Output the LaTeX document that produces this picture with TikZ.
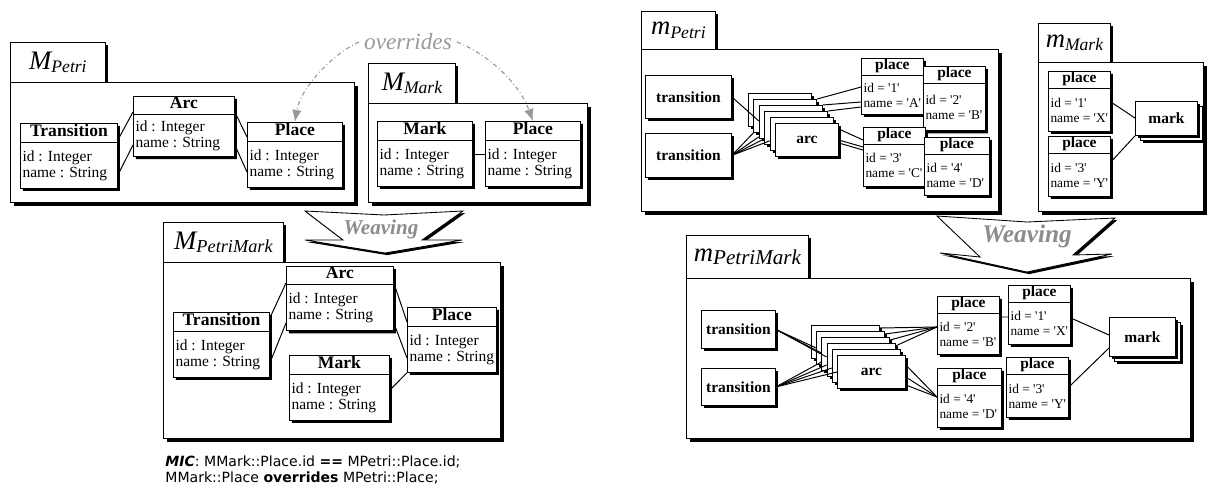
\documentclass[tikz,border=0pt]{standalone}
\usepackage{fontspec}
\setmainfont{Liberation Serif}
\newfontfamily\micfont{DejaVu Sans}
\usetikzlibrary{shapes.multipart,shadows,arrows.meta,calc}

\newcommand{\clshd}[1]{{\fontsize{12.5}{14}\selectfont\bfseries\rule[-4.3pt]{0pt}{12pt}#1}}
\newcommand{\clsbd}[3][32pt]{{\fontsize{11}{11.3}\selectfont\vbox to #1{\vss\hbox{#2}\hbox{#3}\vss}}}
\newcommand{\objhd}[1]{{\fontsize{11}{12}\selectfont\bfseries\rule[-4pt]{0pt}{11.6pt}#1}}
\newcommand{\objbd}[3][29pt]{{\fontsize{9.5}{10.6}\selectfont\vbox to #1{\vss\hbox{#2}\hbox{#3}\vss}}}
\newcommand{\pkgname}[3][12.5]{{\itshape\fontsize{19}{20}\selectfont #2\raisebox{-0.3ex}{\fontsize{#1}{#1}\selectfont #3}}}
\newcommand{\sq}[1]{\textquotesingle#1\textquotesingle}

\begin{document}
\begin{tikzpicture}[x=0.25mm,y=-0.25mm,line width=0.6pt,
  shd/.style={drop shadow={shadow xshift=1.8pt,shadow yshift=-1.8pt,fill=black,opacity=1}},
  tabbox/.style={draw,fill=white,shd,anchor=north west,inner sep=0pt},
  pkgbox/.style={draw,fill=white,drop shadow={shadow xshift=2.2pt,shadow yshift=-2.2pt,fill=black,opacity=1},anchor=north west,inner sep=0pt},
  cls/.style={rectangle split,rectangle split parts=2,draw,fill=white,shd,anchor=north west,inner xsep=1.5pt,inner ysep=0pt,rectangle split part align={center,left}},
  gcls/.style={cls,rectangle split part fill={black!14,black!14}},
  objbox/.style={draw,fill=white,shd,anchor=north west,inner sep=0pt,font=\fontsize{11}{12}\selectfont\bfseries},
  link/.style={line width=0.7pt},
  overarr/.style={black!40,dash dot,line width=0.8pt,-{Latex[length=3mm,width=2.4mm]}},
  weave/.style={draw,fill=white,line width=0.6pt,drop shadow={shadow xshift=1.5pt,shadow yshift=-1.5pt,fill=black,opacity=1}},
  wtxt/.style={text=black!45}]
\useasboundingbox (0,0) rectangle (1215,497);

% M_Petri
\node[tabbox,minimum width=23.75mm,minimum height=10mm] (tab1) at (10,42) {\pkgname{M}{Petri}};
\node[pkgbox,minimum width=86mm,minimum height=30mm] (pkg1) at (10,82) {};
\node[cls,minimum width=24.25mm] (tp) at (20,123) {\clshd{Transition}\nodepart{two}\clsbd{id : Integer}{name : String}};
\node[cls,minimum width=25.25mm] (ap) at (133,96) {\clshd{Arc}\nodepart{two}\clsbd[29pt]{id : Integer}{name : String}};
\node[cls,minimum width=23.75mm] (pp) at (247,122) {\clshd{Place}\nodepart{two}\clsbd{id : Integer}{name : String}};
\draw[link] ($(tp.north east)+(0,17)$) -- ($(ap.north west)+(0,16)$)
            ($(tp.north east)+(0,52)$) -- ($(ap.north west)+(0,49)$)
            ($(ap.north east)+(0,16)$) -- ($(pp.north west)+(0,15)$)
            ($(ap.north east)+(0,49)$) -- ($(pp.north west)+(0,50)$);

% M_Mark
\node[tabbox,minimum width=21.75mm,minimum height=10mm] (tab2) at (368,63) {\pkgname{M}{Mark}};
\node[pkgbox,minimum width=54.75mm,minimum height=24.75mm] (pkg2) at (368,103) {};
\node[cls,minimum width=23.75mm] (mk) at (377,121) {\clshd{Mark}\nodepart{two}\clsbd{id : Integer}{name : String}};
\node[cls,minimum width=23.75mm] (pm) at (485,121) {\clshd{Place}\nodepart{two}\clsbd{id : Integer}{name : String}};
\draw[link] ($(mk.north east)+(0,33)$) -- ($(pm.north west)+(0,33)$);

% overrides
\node[text=black!40,font=\fontsize{16.5}{18}\selectfont\itshape] (ovr) at (408,42) {overrides};
\draw[overarr] (ovr.west) .. controls (330,55) and (300,90) .. (pp.north);
\draw[overarr] (ovr.east) .. controls (490,55) and (520,85) .. (pm.north);

% weaving, left
\draw[weave] (305,211) -- (384,215) -- (463,211) -- (422,240) -- (462,240) -- (385,253) -- (305,240) -- (343,240) -- cycle;
\node[wtxt,font=\fontsize{15}{16}\selectfont\bfseries\itshape] (wv1) at (381,229) {Weaving};

% M_PetriMark
\node[tabbox,minimum width=30mm,minimum height=10mm] (tab3) at (163,222) {\pkgname[13]{M}{PetriMark}};
\node[pkgbox,minimum width=84.25mm,minimum height=44mm] (pkg3) at (163,262) {};
\node[cls,minimum width=24mm] (tq) at (173,312) {\clshd{Transition}\nodepart{two}\clsbd{id : Integer}{name : String}};
\node[cls,minimum width=26.75mm] (aq) at (286,266) {\clshd{Arc}\nodepart{two}\clsbd{id : Integer}{name : String}};
\node[cls,minimum width=21.5mm] (pq) at (407,307) {\clshd{Place}\nodepart{two}\clsbd{id : Integer}{name : String}};
\node[cls,minimum width=25mm] (mq) at (289,355) {\clshd{Mark}\nodepart{two}\clsbd{id : Integer}{name : String}};
\draw[link] ($(tq.north east)+(0,6)$) -- ($(aq.north west)+(0,17)$)
            ($(tq.north east)+(0,51)$) -- ($(aq.north west)+(0,57)$)
            ($(aq.north east)+(0,17)$) -- ($(pq.north west)+(0,15)$)
            ($(aq.north east)+(0,57)$) -- ($(pq.north west)+(0,51)$)
            ($(mq.north east)+(0,35)$) -- (pq.south west);

\node[anchor=north west,align=left,inner sep=0pt,font=\micfont\fontsize{10}{11.5}\selectfont] (mic) at (165,455)
  {\textbf{\textit{MIC}}: MMark::Place.id \textbf{==} MPetri::Place.id;\\MMark::Place \textbf{overrides} MPetri::Place;};

% m_Petri
\node[tabbox,minimum width=18.5mm,minimum height=9.5mm] (tab4) at (641,11) {\pkgname{m}{Petri}};
\node[pkgbox,minimum width=89.25mm,minimum height=40.5mm] (pkg4) at (641,49) {};
\node[objbox,minimum width=21.5mm,minimum height=10.75mm] (t1) at (645,75) {transition};
\node[objbox,minimum width=21.5mm,minimum height=11mm] (t2) at (645,133) {transition};
\foreach \i in {1,...,6}
  \node[objbox,minimum width=15.75mm,minimum height=8.25mm] (a\i) at ({748+5.4*(\i-1)},{93+6*(\i-1)}) {\ifnum\i=6 arc\fi};
\node[gcls,minimum width=15.5mm] (p1) at (861,58) {\objhd{place}\nodepart{two}\objbd[27pt]{id = \sq{1}}{name = \sq{A}}};
\node[cls,minimum width=15.5mm] (p2) at (923,66) {\objhd{place}\nodepart{two}\objbd[33pt]{id = \sq{2}}{name = \sq{B}}};
\node[gcls,minimum width=15.5mm] (p3) at (863,127) {\objhd{place}\nodepart{two}\objbd[29pt]{id = \sq{3}}{name = \sq{C}}};
\node[cls,minimum width=16.25mm] (p4) at (924,137) {\objhd{place}\nodepart{two}\objbd[28.4pt]{id = \sq{4}}{name = \sq{D}}};
\draw[link] (t1.east) -- ($(a3.north west)+(0,16)$);
\foreach \i/\d in {2/0,3/-2,4/-6,5/-10}
  \draw[link] (t2.east) -- ($(a\i.south west)+(0,\d)$);
\foreach \i/\d in {2/29,3/44,4/49}
  \draw[link] (a\i.north east) -- ($(p1.north west)+(0,\d)$);
\foreach \s/\d in {6/13,17/20,20/23}
  \draw[link] ($(a6.north east)+(0,\s)$) -- ($(p3.north west)+(0,\d)$);

% m_Mark
\node[tabbox,minimum width=18mm,minimum height=9.75mm] (tab5) at (1038,23) {\pkgname{m}{Mark}};
\node[pkgbox,minimum width=41.25mm,minimum height=37.25mm] (pkg5) at (1038,62) {};
\node[gcls,minimum width=15.5mm] (q1) at (1048,71) {\objhd{place}\nodepart{two}\objbd[29.8pt]{id = \sq{1}}{name = \sq{X}}};
\node[gcls,minimum width=15.5mm] (q3) at (1048,136) {\objhd{place}\nodepart{two}\objbd[29.8pt]{id = \sq{3}}{name = \sq{Y}}};
\node[objbox,minimum width=15.5mm,minimum height=8.5mm] (mkb) at (1140,106) {};
\node[objbox,minimum width=15.5mm,minimum height=8.5mm] (mka) at (1135,101) {mark};
\draw[link] ($(q1.north east)+(0,31)$) -- ($(mka.north west)+(0,17)$)
            ($(q3.north east)+(0,26)$) -- (mka.south west);

% weaving, right
\draw[weave] (937,216) -- (1027,222) -- (1115,218) -- (1073,255) -- (1112,254) -- (1027,272) -- (940,253) -- (980,257) -- cycle;
\node[wtxt,font=\fontsize{18}{19}\selectfont\bfseries\itshape] (wv2) at (1027,236) {Weaving};

% m_PetriMark
\node[tabbox,minimum width=30.5mm,minimum height=10.75mm] (tab6) at (686,235) {\pkgname[15]{m}{PetriMark}};
\node[pkgbox,minimum width=126mm,minimum height=40mm] (pkg6) at (686,278) {};
\node[objbox,minimum width=18.5mm,minimum height=9.5mm] (u1) at (701,310) {transition};
\node[objbox,minimum width=18.5mm,minimum height=9.25mm] (u2) at (701,368) {transition};
\foreach \i in {1,...,6}
  \node[objbox,minimum width=17mm,minimum height=8.25mm] (b\i) at ({811+5.2*(\i-1)},{325+6*(\i-1)}) {\ifnum\i=6 arc\fi};
\node[cls,minimum width=15.5mm] (r2) at (937,296) {\objhd{place}\nodepart{two}\objbd[28.4pt]{id = \sq{2}}{name = \sq{B}}};
\node[gcls,minimum width=15.5mm] (r1) at (1008,285) {\objhd{place}\nodepart{two}\objbd[29pt]{id = \sq{1}}{name = \sq{X}}};
\node[cls,minimum width=16mm] (r4) at (937,368) {\objhd{place}\nodepart{two}\objbd[29pt]{id = \sq{4}}{name = \sq{D}}};
\node[gcls,minimum width=15.5mm] (r3) at (1006,357) {\objhd{place}\nodepart{two}\objbd[29.8pt]{id = \sq{3}}{name = \sq{Y}}};
\node[objbox,minimum width=16.5mm,minimum height=9.75mm] (mkd) at (1114,322) {};
\node[objbox,minimum width=16.5mm,minimum height=9.75mm] (mkc) at (1109,317) {mark};
\foreach \i/\d in {2/17,3/16,4/14}
  \draw[link] (u1.east) -- ($(b\i.north west)+(0,\d)$);
\foreach \i/\d in {3/25,4/22,5/19,6/17}
  \draw[link] (u2.east) -- ($(b\i.north west)+(0,\d)$);
\foreach \i in {1,...,4}
  \draw[link] ($(b\i.north east)+(0,3)$) -- ($(r2.north west)+(0,31)$);
\foreach \s in {10,22,30}
  \draw[link] ($(b6.north east)+(0,\s)$) -- ($(r4.north west)+(0,29)$);
\draw[link] ($(r2.north east)+(0,21)$) -- ($(r1.north west)+(0,32)$)
            ($(r1.north east)+(0,33)$) -- ($(mkc.north west)+(0,18)$)
            ($(r3.north east)+(0,30)$) -- ($(mkc.north west)+(0,31)$);
\end{tikzpicture}
\end{document}
